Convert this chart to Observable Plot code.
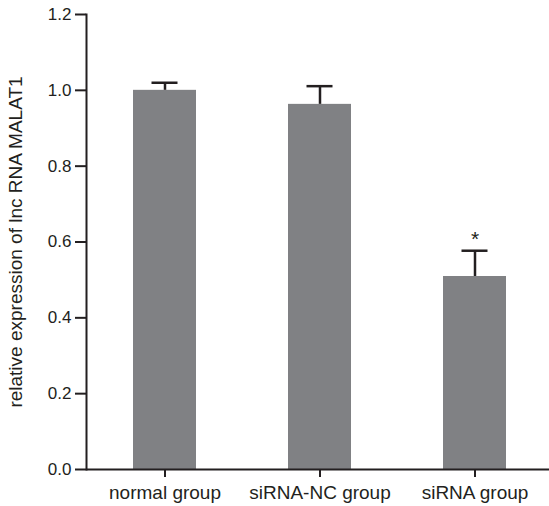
<!DOCTYPE html>
<html>
<head>
<meta charset="utf-8">
<script src="https://cdn.jsdelivr.net/npm/d3@7"></script>
<script src="https://cdn.jsdelivr.net/npm/@observablehq/plot@0.6"></script>
<style>
  html, body { margin: 0; padding: 0; background: #fff; }
  #chart svg { display: block; }
</style>
</head>
<body>
<div id="chart"></div>
<script>
const groups = ["normal group", "siRNA-NC group", "siRNA group"];
const means = [1.0, 0.963, 0.509];
const errTops = [1.02, 1.011, 0.577];
const marks = ["", "", "*"];
const yTicks = [0, 0.2, 0.4, 0.6, 0.8, 1.0, 1.2];
const yLabel = "relative expression of lnc RNA MALAT1";

const data = groups.map((g, i) => ({group: g, mean: means[i], top: errTops[i], mark: marks[i]}));

const ink = "#231f20";
const chart = Plot.plot({
  width: 549,
  height: 506,
  marginLeft: 86,
  marginRight: 0,
  marginTop: 14,
  marginBottom: 37,
  style: {fontFamily: "'Liberation Sans', Arial, sans-serif", color: ink, background: "#fff"},
  x: {domain: groups, range: [86, 552], paddingInner: 0.594, paddingOuter: 0.3},
  y: {domain: [0, 1.2]},
  marks: [
    Plot.barY(data, {x: "group", y: "mean", fill: "#808184"}),
    Plot.ruleX(data, {x: "group", y1: "mean", y2: "top", stroke: ink, strokeWidth: 2.5}),
    Plot.tickY(data, {x: "group", y: "top", stroke: ink, strokeWidth: 2.5, insetLeft: 18.5, insetRight: 18.5}),
    Plot.text(data, {x: "group", y: "top", text: "mark", dy: -11, fontSize: 21, fill: ink}),
    Plot.ruleY([0], {stroke: ink, strokeWidth: 2}),
    Plot.axisY({ticks: yTicks, tickFormat: d3.format(".1f"), tickSize: 11, tickPadding: 4, fontSize: 17, stroke: ink, strokeWidth: 2, label: null}),
    Plot.axisY({ticks: [], tickSize: 0, label: yLabel, labelArrow: "none", labelAnchor: "center", labelOffset: 78, fontSize: 19}),
    Plot.frame({anchor: "left", stroke: ink, strokeWidth: 2}),
    Plot.axisX({tickSize: 8, tickPadding: 8, fontSize: 19, stroke: ink, strokeWidth: 2, label: null})
  ]
});
document.getElementById("chart").appendChild(chart);
</script>
</body>
</html>
